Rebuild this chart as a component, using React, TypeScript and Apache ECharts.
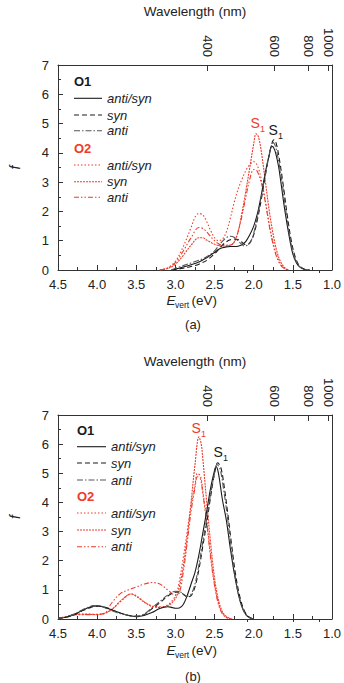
import React, { useEffect, useRef } from "react";
import * as echarts from "echarts";

const RED = "#ee3b2b";
const BLACK = "#1a1a1a";
const GRAY = "#555555";
const AX = "#333333";
const TXT = "#222222";
const FONT = "'Liberation Sans', Arial, Helvetica, sans-serif";

// Top axis tick labels (nm)
const waveMajor = [400, 600, 800, 1000];
const waveMinor = [500, 700, 900];

type Pt = [number, number];

// ---------- Panel (a) ----------
const aO1AntiSyn: Pt[] = [[3.05,0],[3.0,0.03],[2.9,0.1],[2.8,0.18],[2.7,0.27],[2.6,0.42],[2.5,0.6],[2.45,0.7],[2.4,0.76],[2.35,0.79],[2.3,0.8],[2.25,0.8],[2.2,0.81],[2.15,0.86],[2.1,0.98],[2.05,1.2],[2.0,1.5],[1.95,1.95],[1.9,2.6],[1.85,3.35],[1.8,3.95],[1.77,4.22],[1.75,4.2],[1.72,4.0],[1.68,3.5],[1.65,2.95],[1.6,2.0],[1.55,1.2],[1.5,0.55],[1.45,0.22],[1.4,0.08],[1.35,0.02],[1.3,0]];
const aO1Syn: Pt[] = [[3.05,0],[3.0,0.02],[2.9,0.06],[2.8,0.12],[2.7,0.2],[2.6,0.33],[2.5,0.55],[2.45,0.7],[2.4,0.85],[2.35,0.96],[2.3,1.03],[2.25,1.06],[2.2,1.04],[2.15,0.95],[2.1,0.86],[2.05,0.92],[2.0,1.2],[1.95,1.75],[1.9,2.45],[1.85,3.25],[1.8,3.95],[1.76,4.38],[1.74,4.45],[1.71,4.3],[1.67,3.75],[1.62,2.85],[1.57,1.85],[1.52,1.0],[1.47,0.45],[1.42,0.16],[1.37,0.05],[1.32,0.01],[1.28,0]];
const aO1Anti: Pt[] = [[3.05,0],[3.0,0.06],[2.9,0.15],[2.8,0.24],[2.7,0.33],[2.6,0.45],[2.5,0.65],[2.45,0.82],[2.4,0.98],[2.35,1.1],[2.3,1.15],[2.25,1.12],[2.2,1.0],[2.15,0.87],[2.12,0.82],[2.08,0.85],[2.03,1.02],[2.0,1.25],[1.95,1.85],[1.9,2.55],[1.85,3.3],[1.8,3.95],[1.77,4.27],[1.75,4.35],[1.72,4.2],[1.68,3.7],[1.63,2.85],[1.58,1.85],[1.53,1.0],[1.48,0.45],[1.43,0.16],[1.38,0.05],[1.33,0.01],[1.3,0]];
const aO2AntiSyn: Pt[] = [[3.2,0],[3.1,0.08],[3.0,0.3],[2.9,0.8],[2.8,1.45],[2.75,1.8],[2.7,1.93],[2.65,1.88],[2.6,1.65],[2.55,1.35],[2.5,1.1],[2.45,1.0],[2.4,1.05],[2.35,1.3],[2.3,1.75],[2.25,2.3],[2.2,2.75],[2.15,3.1],[2.1,3.4],[2.05,3.6],[2.0,3.7],[1.95,3.55],[1.9,3.05],[1.85,2.35],[1.8,1.55],[1.75,0.9],[1.7,0.45],[1.65,0.18],[1.6,0.05],[1.55,0]];
const aO2Syn: Pt[] = [[3.2,0],[3.1,0.05],[3.0,0.2],[2.9,0.5],[2.8,0.85],[2.7,1.1],[2.65,1.1],[2.6,1.02],[2.5,0.88],[2.4,0.82],[2.3,0.85],[2.25,0.95],[2.2,1.3],[2.15,1.95],[2.1,2.7],[2.05,3.5],[2.0,4.3],[1.97,4.65],[1.94,4.55],[1.9,4.0],[1.85,3.0],[1.8,2.0],[1.75,1.2],[1.7,0.6],[1.65,0.25],[1.6,0.07],[1.55,0]];
const aO2Anti: Pt[] = [[3.2,0],[3.1,0.06],[3.0,0.25],[2.9,0.65],[2.8,1.1],[2.7,1.45],[2.65,1.42],[2.6,1.3],[2.5,1.0],[2.4,0.85],[2.3,0.85],[2.25,0.95],[2.2,1.3],[2.15,1.85],[2.1,2.5],[2.05,3.1],[2.0,3.43],[1.96,3.4],[1.9,2.95],[1.85,2.3],[1.8,1.5],[1.75,0.85],[1.7,0.4],[1.65,0.15],[1.6,0.04],[1.55,0]];

// ---------- Panel (b) ----------
const bO1AntiSyn: Pt[] = [[4.5,0.02],[4.4,0.06],[4.3,0.15],[4.2,0.28],[4.1,0.4],[4.0,0.45],[3.9,0.4],[3.8,0.3],[3.7,0.2],[3.6,0.12],[3.5,0.09],[3.4,0.12],[3.3,0.22],[3.2,0.36],[3.1,0.42],[3.05,0.4],[3.0,0.37],[2.95,0.38],[2.9,0.5],[2.85,0.8],[2.8,1.2],[2.75,1.6],[2.7,2.2],[2.65,2.95],[2.6,3.7],[2.55,4.5],[2.5,5.1],[2.48,5.23],[2.45,5.0],[2.4,4.1],[2.35,3.4],[2.3,2.45],[2.25,1.6],[2.2,0.9],[2.15,0.42],[2.1,0.15],[2.05,0.04],[2.0,0]];
const bO1Syn: Pt[] = [[4.5,0.02],[4.4,0.06],[4.3,0.14],[4.2,0.27],[4.1,0.38],[4.0,0.44],[3.9,0.4],[3.8,0.3],[3.7,0.2],[3.6,0.12],[3.5,0.08],[3.4,0.15],[3.3,0.35],[3.2,0.55],[3.1,0.78],[3.0,0.92],[2.95,0.93],[2.9,0.85],[2.85,0.76],[2.8,0.8],[2.75,1.1],[2.7,1.7],[2.65,2.5],[2.6,3.3],[2.55,4.2],[2.5,5.0],[2.46,5.36],[2.42,5.2],[2.38,4.6],[2.33,3.6],[2.28,2.5],[2.23,1.5],[2.18,0.8],[2.13,0.35],[2.08,0.12],[2.03,0.03],[2.0,0]];
const bO1Anti: Pt[] = [[4.5,0.02],[4.4,0.07],[4.3,0.16],[4.2,0.3],[4.1,0.42],[4.05,0.46],[3.95,0.43],[3.85,0.33],[3.75,0.22],[3.6,0.13],[3.5,0.1],[3.4,0.17],[3.3,0.38],[3.2,0.6],[3.1,0.82],[3.0,0.95],[2.95,0.94],[2.9,0.86],[2.85,0.78],[2.8,0.85],[2.75,1.2],[2.7,1.85],[2.65,2.65],[2.6,3.45],[2.55,4.3],[2.5,5.0],[2.47,5.3],[2.43,5.15],[2.39,4.55],[2.34,3.6],[2.29,2.5],[2.24,1.5],[2.19,0.8],[2.14,0.35],[2.09,0.12],[2.04,0.03],[2.0,0]];
const bO2AntiSyn: Pt[] = [[4.5,0.02],[4.4,0.08],[4.3,0.15],[4.2,0.17],[4.1,0.17],[4.0,0.16],[3.9,0.2],[3.8,0.35],[3.7,0.6],[3.6,0.83],[3.55,0.86],[3.5,0.8],[3.4,0.6],[3.3,0.45],[3.2,0.42],[3.1,0.48],[3.0,0.8],[2.95,1.3],[2.9,2.1],[2.85,3.0],[2.8,3.9],[2.75,4.6],[2.72,5.0],[2.68,4.9],[2.65,4.4],[2.6,3.4],[2.55,2.2],[2.5,1.2],[2.45,0.55],[2.4,0.2],[2.35,0.06],[2.3,0.01],[2.27,0]];
const bO2Syn: Pt[] = [[4.5,0.02],[4.4,0.07],[4.3,0.14],[4.2,0.16],[4.1,0.16],[4.0,0.15],[3.9,0.2],[3.8,0.36],[3.7,0.62],[3.6,0.84],[3.57,0.86],[3.5,0.78],[3.4,0.58],[3.3,0.43],[3.2,0.4],[3.1,0.45],[3.0,0.7],[2.95,1.1],[2.9,1.8],[2.85,2.8],[2.8,4.0],[2.75,5.3],[2.7,6.25],[2.67,6.0],[2.65,5.5],[2.6,4.0],[2.55,2.6],[2.5,1.4],[2.45,0.65],[2.4,0.25],[2.35,0.08],[2.3,0.02],[2.27,0]];
const bO2Anti: Pt[] = [[4.5,0.02],[4.4,0.08],[4.3,0.14],[4.2,0.15],[4.1,0.15],[4.0,0.16],[3.9,0.2],[3.85,0.4],[3.8,0.6],[3.7,0.88],[3.6,1.0],[3.5,1.1],[3.4,1.2],[3.3,1.25],[3.2,1.2],[3.1,1.0],[3.0,0.82],[2.95,0.9],[2.9,1.6],[2.85,2.6],[2.8,3.7],[2.75,4.5],[2.72,4.88],[2.68,4.8],[2.65,4.3],[2.6,3.3],[2.55,2.1],[2.5,1.15],[2.45,0.5],[2.4,0.18],[2.35,0.05],[2.3,0]];

const legendNames = ["anti/syn", "syn", "anti"];

const styles = {
  o1AntiSyn: { color: BLACK, dash: "solid" as any },
  o1Syn: { color: BLACK, dash: [5, 3] as any },
  o1Anti: { color: GRAY, dash: [6, 2, 1.5, 2] as any },
  o2AntiSyn: { color: RED, dash: [1.5, 2] as any },
  o2Syn: { color: RED, dash: [2, 1] as any },
  o2Anti: { color: RED, dash: [5, 2, 1.5, 2, 1.5, 2] as any },
};

const TOP_MIN = 9.55;
const TOP_MAX = 43.44;

function axesFor(g: number) {
  const xBottom = {
    type: "value", gridIndex: g, min: 1.0, max: 4.5, interval: 0.5, inverse: true, position: "bottom",
    axisLine: { show: true, onZero: false, lineStyle: { color: AX, width: 1 } },
    axisTick: { show: true, inside: true, length: 5, lineStyle: { color: AX } },
    minorTick: { show: true, splitNumber: 2, length: 3, lineStyle: { color: AX } },
    axisLabel: { margin: 8, fontSize: 13, color: TXT, fontFamily: FONT, showMinLabel: true, showMaxLabel: true, formatter: (v: number) => v.toFixed(1) },
    splitLine: { show: false }, minorSplitLine: { show: false },
  };
  const xTopMajor = {
    type: "value", gridIndex: g, min: TOP_MIN, max: TOP_MAX, inverse: true, position: "top",
    axisLine: { show: true, onZero: false, lineStyle: { color: AX, width: 1 } },
    axisTick: { show: true, inside: true, length: 6, lineStyle: { color: AX }, customValues: waveMajor.map((l) => 1e4 / l) },
    axisLabel: { show: true, rotate: 90, margin: 8, fontSize: 13, color: TXT, fontFamily: FONT, customValues: waveMajor.map((l) => 1e4 / l), formatter: (v: number) => String(Math.round(1e4 / v)) },
    splitLine: { show: false },
    name: "Wavelength (nm)", nameLocation: "middle", nameGap: 47,
    nameTextStyle: { fontSize: 13.5, color: TXT, fontFamily: FONT },
  };
  const xTopMinor = {
    type: "value", gridIndex: g, min: TOP_MIN, max: TOP_MAX, inverse: true, position: "top",
    axisLine: { show: false },
    axisTick: { show: true, inside: true, length: 3, lineStyle: { color: AX }, customValues: waveMinor.map((l) => 1e4 / l) },
    axisLabel: { show: false },
    splitLine: { show: false },
  };
  const yLeft = {
    type: "value", gridIndex: g, min: 0, max: 7, interval: 1, position: "left",
    axisLine: { show: true, lineStyle: { color: AX, width: 1 } },
    axisTick: { show: true, inside: true, length: 5, lineStyle: { color: AX } },
    minorTick: { show: true, splitNumber: 2, length: 3, lineStyle: { color: AX } },
    axisLabel: { margin: 9, fontSize: 13, color: TXT, fontFamily: FONT },
    splitLine: { show: false }, minorSplitLine: { show: false },
    name: "f", nameLocation: "middle", nameGap: 36,
    nameTextStyle: { fontSize: 14, fontStyle: "italic", color: TXT, fontFamily: FONT },
  };
  const yRight = {
    type: "value", gridIndex: g, min: 0, max: 7, position: "right",
    axisLine: { show: true, lineStyle: { color: AX, width: 1 } },
    axisTick: { show: false }, axisLabel: { show: false }, splitLine: { show: false },
  };
  return { x: [xBottom, xTopMajor, xTopMinor], y: [yLeft, yRight] };
}

function seriesFor(g: number, sets: [string, Pt[], { color: string; dash: any }][]) {
  return sets.map(([name, data, st]) => ({
    name, type: "line", xAxisIndex: g * 3, yAxisIndex: g * 2, data,
    smooth: 0.35, showSymbol: false, symbol: "none",
    lineStyle: { color: st.color, width: 1.1, type: st.dash },
    itemStyle: { color: st.color },
    z: 3,
  }));
}

function legendGraphic(hx: number, x1: number, x2: number, tx: number, ys: number[]) {
  const els: any[] = [];
  const head = (label: string, y: number, color: string) => ({
    type: "text", x: hx, y,
    style: { text: label, fill: color, fontSize: 13, fontWeight: "bold", fontFamily: FONT, verticalAlign: "middle", align: "left" },
  });
  const row = (y: number, st: { color: string; dash: any }, label: string) => [
    { type: "line", shape: { x1, y1: y, x2, y2: y }, style: { stroke: st.color, lineWidth: 1.1, lineDash: st.dash === "solid" ? null : st.dash } },
    { type: "text", x: tx, y, style: { text: label, fill: TXT, fontSize: 13, fontStyle: "italic", fontFamily: FONT, verticalAlign: "middle", align: "left" } },
  ];
  els.push(head("O1", ys[0], BLACK));
  els.push(...row(ys[1], styles.o1AntiSyn, legendNames[0]));
  els.push(...row(ys[2], styles.o1Syn, legendNames[1]));
  els.push(...row(ys[3], styles.o1Anti, legendNames[2]));
  els.push(head("O2", ys[4], RED));
  els.push(...row(ys[5], styles.o2AntiSyn, legendNames[0]));
  els.push(...row(ys[6], styles.o2Syn, legendNames[1]));
  els.push(...row(ys[7], styles.o2Anti, legendNames[2]));
  return els;
}

function s1Label(x: number, y: number, color: string) {
  return [
    { type: "text", x, y, style: { text: "S", fill: color, fontSize: 14, fontFamily: FONT, verticalAlign: "middle", align: "left" } },
    { type: "text", x: x + 9.5, y: y + 6, style: { text: "1", fill: color, fontSize: 9, fontFamily: FONT, verticalAlign: "middle", align: "left" } },
  ];
}

function eLabel(y: number) {
  return [
    { type: "text", x: 166.5, y, style: { text: "E", fill: TXT, fontSize: 13.5, fontStyle: "italic", fontFamily: FONT, verticalAlign: "middle", align: "left" } },
    { type: "text", x: 175, y: y + 4.5, style: { text: "vert", fill: TXT, fontSize: 8.5, fontFamily: FONT, verticalAlign: "middle", align: "left" } },
    { type: "text", x: 191.5, y, style: { text: "(eV)", fill: TXT, fontSize: 13.5, fontFamily: FONT, verticalAlign: "middle", align: "left" } },
  ];
}

export default function App() {
  const ref = useRef<HTMLDivElement>(null);
  useEffect(() => {
    if (!ref.current) return;
    const chart = echarts.init(ref.current, undefined, { renderer: "svg" });
    const a = axesFor(0);
    const b = axesFor(1);
    const option: any = {
      animation: false,
      backgroundColor: "#ffffff",
      textStyle: { fontFamily: FONT },
      grid: [
        { left: 51, top: 65, width: 283, height: 205 },
        { left: 51, top: 415, width: 283, height: 204 },
      ],
      xAxis: [...a.x, ...b.x],
      yAxis: [...a.y, ...b.y],
      series: [
        ...seriesFor(0, [
          ["O2 anti/syn (a)", aO2AntiSyn, styles.o2AntiSyn],
          ["O2 syn (a)", aO2Syn, styles.o2Syn],
          ["O2 anti (a)", aO2Anti, styles.o2Anti],
          ["O1 anti/syn (a)", aO1AntiSyn, styles.o1AntiSyn],
          ["O1 syn (a)", aO1Syn, styles.o1Syn],
          ["O1 anti (a)", aO1Anti, styles.o1Anti],
        ]),
        ...seriesFor(1, [
          ["O2 anti/syn (b)", bO2AntiSyn, styles.o2AntiSyn],
          ["O2 syn (b)", bO2Syn, styles.o2Syn],
          ["O2 anti (b)", bO2Anti, styles.o2Anti],
          ["O1 anti/syn (b)", bO1AntiSyn, styles.o1AntiSyn],
          ["O1 syn (b)", bO1Syn, styles.o1Syn],
          ["O1 anti (b)", bO1Anti, styles.o1Anti],
        ]),
      ],
      graphic: [
        ...legendGraphic(74, 74, 102, 107, [81.7, 98.3, 115, 130.7, 148.3, 165, 181.7, 197.3]),
        ...legendGraphic(77, 77, 106, 111, [430, 446.7, 463, 480, 496.7, 513, 530, 546.7]),
        ...s1Label(250.5, 123, RED),
        ...s1Label(268.5, 130, BLACK),
        ...s1Label(191.5, 428, RED),
        ...s1Label(213.5, 452, BLACK),
        ...eLabel(300.5),
        ...eLabel(650),
        { type: "text", x: 193, y: 324, style: { text: "(a)", fill: TXT, fontSize: 13, fontFamily: FONT, verticalAlign: "middle", align: "center" } },
        { type: "text", x: 193, y: 676, style: { text: "(b)", fill: TXT, fontSize: 13, fontFamily: FONT, verticalAlign: "middle", align: "center" } },
      ],
    };
    chart.setOption(option);
    return () => chart.dispose();
  }, []);
  return <div ref={ref} style={{ position: "fixed", left: 0, top: 0, width: 344, height: 683, background: "#fff" }} />;
}
